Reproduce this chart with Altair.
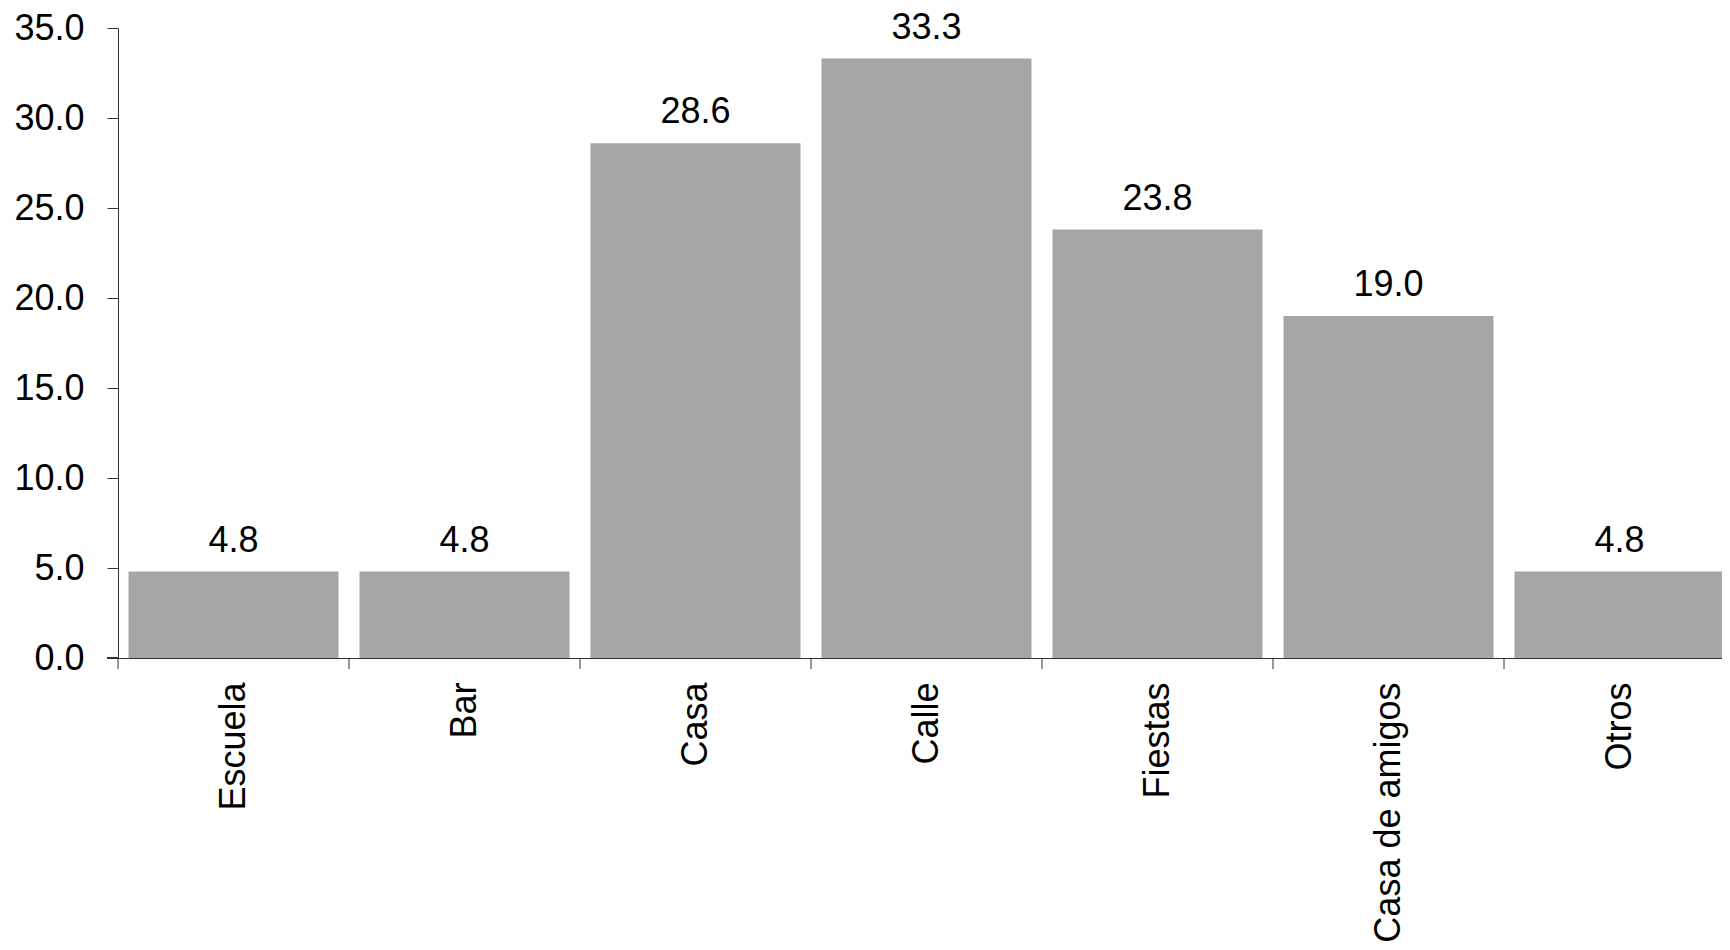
import altair as alt
import pandas as pd

categories = ["Escuela", "Bar", "Casa", "Calle", "Fiestas", "Casa de amigos", "Otros"]
values = [4.8, 4.8, 28.6, 33.3, 23.8, 19.0, 4.8]
y_ticks = [0, 5, 10, 15, 20, 25, 30, 35]

df = pd.DataFrame({"lugar": categories, "pct": values})

FONT = "Liberation Sans"
AXIS_COLOR = "#333333"
PLOT_W, PLOT_H = 1617, 630

x_scale = alt.Scale(paddingInner=0.091, paddingOuter=0.0455)
x_axis = alt.Axis(
    labelAngle=-90,
    labelAlign="right",
    labelBaseline="middle",
    labelFontSize=36,
    labelFont=FONT,
    labelColor="black",
    labelLimit=500,
    ticks=False,
    domainColor=AXIS_COLOR,
    labelPadding=24,
)

x = alt.X("lugar:N", sort=categories, title=None, scale=x_scale, axis=x_axis)
x_edge = alt.X("lugar:N", sort=categories, title=None, scale=x_scale, axis=x_axis,
               bandPosition=0)

y = alt.Y(
    "pct:Q",
    title=None,
    scale=alt.Scale(domain=[0, 35], nice=False),
    axis=alt.Axis(
        values=y_ticks,
        format=".1f",
        labelFontSize=36,
        labelFont=FONT,
        labelColor="black",
        tickSize=11,
        tickColor=AXIS_COLOR,
        domainColor=AXIS_COLOR,
        labelPadding=23,
        grid=False,
    ),
)

base = alt.Chart(df)
bars = base.mark_bar(color="#a6a6a6").encode(x=x, y=y)
labels = base.mark_text(
    dy=-20, baseline="alphabetic", fontSize=36, font=FONT, color="black"
).encode(x=x, y=y, text=alt.Text("pct:Q", format=".1f"))

# category tick marks placed between the bars (Excel style)
ticks = base.mark_rule(color=AXIS_COLOR, strokeWidth=1, xOffset=-10.5).encode(
    x=x_edge, y=alt.value(PLOT_H), y2=alt.value(PLOT_H + 11)
)

# small extension of the baseline to the left of the y axis
stub = base.mark_rule(color=AXIS_COLOR, strokeWidth=1).encode(
    x=alt.value(-11), x2=alt.value(0), y=alt.value(PLOT_H)
)

chart = (
    alt.layer(bars, labels, ticks, stub)
    .properties(
        width=PLOT_W,
        height=PLOT_H,
        autosize=alt.AutoSizeParams(type="none"),
        padding={"left": 110, "top": 20, "right": -13, "bottom": 283},
        background="white",
    )
    .configure_view(stroke=None)
)

chart.save("out.html", embed_options={"renderer": "svg", "actions": False})
